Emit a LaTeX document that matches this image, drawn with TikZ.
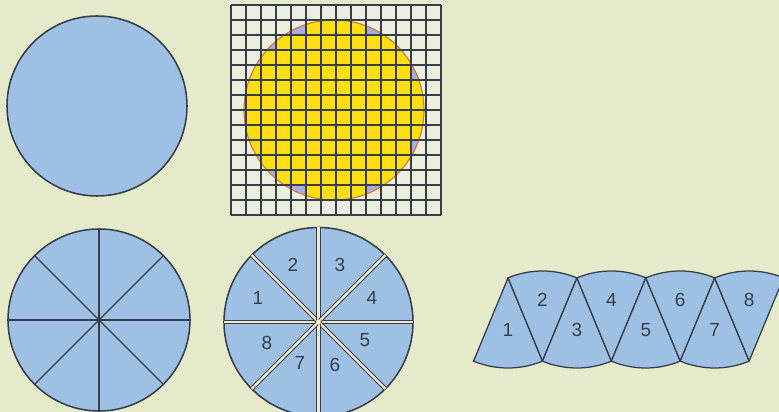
\documentclass[tikz,border=0pt]{standalone}
\usepackage{fontspec}
\setmainfont{Liberation Sans}
\usepackage{tikz}
\usetikzlibrary{positioning,calc}
\definecolor{PaperBg}{RGB}{228,234,202}
\definecolor{DiscBlue}{RGB}{157,192,228}
\definecolor{DiscLilac}{RGB}{168,172,226}
\definecolor{CellYellow}{RGB}{255,222,20}
\definecolor{RimOrange}{RGB}{214,120,40}
\definecolor{InkDark}{RGB}{55,62,72}
\definecolor{GapCream}{RGB}{240,236,205}
\definecolor{GridPale}{RGB}{236,238,224}
\begin{document}
\begin{tikzpicture}[x=0.025cm,y=-0.025cm,
    disc/.style={fill=DiscBlue,draw=InkDark,line width=1.1pt},
    cut/.style={draw=InkDark,line width=0.8pt},
    slit/.style={draw=InkDark,line width=0.75pt,double=GapCream,double distance=1.6pt},
    gridline/.style={draw=InkDark,line width=0.9pt},
    piece/.style={fill=DiscBlue,draw=InkDark,line width=0.9pt,line join=round},
    num/.style={font=\fontsize{13.5}{15}\selectfont,text=InkDark,inner sep=0pt}
  ]
  \useasboundingbox (0,0) rectangle (779,412);
  \clip (0,0) rectangle (779,412);
  \fill[PaperBg] (0,0) rectangle (779,412);

  % whole disc
  \coordinate (O1) at (97,106);
  \filldraw[disc] (O1) circle (90);

  % disc on squared paper
  \coordinate (O2) at (334,110);
  \fill[GridPale] (231,5) rectangle (441,215);
  \fill[DiscLilac] (O2) circle (90);
  \begin{scope}
    \clip (O2) circle (90);
    \foreach \c in {0,...,13}
      \foreach \r in {0,...,13}{
        \pgfmathsetmacro\dd{veclen(238.5+15*\c-334,12.5+15*\r-110)}
        \ifdim\dd pt<89.5pt \fill[CellYellow] (231+15*\c,5+15*\r) rectangle ++(15,15);\fi
      }
  \end{scope}
  \draw[RimOrange,line width=0.8pt] (O2) circle (90);
  \foreach \k in {0,...,14}{
    \draw[gridline] (231+15*\k,5) -- (231+15*\k,215);
    \draw[gridline] (231,5+15*\k) -- (441,5+15*\k);
  }

  % disc cut in eight
  \coordinate (O3) at (99,320);
  \filldraw[disc] (O3) circle (91);
  \foreach \a in {0,45,90,135}
    \draw[cut] (O3) ++(\a:91) -- ++(\a+180:182);

  % numbered pieces
  \coordinate (O4) at (318.5,322);
  \filldraw[disc] (O4) circle (94.5);
  \foreach \a in {0,45,90,135}
    \draw[slit] (O4) ++(\a:94.5) -- ++(\a+180:189);
  \filldraw[fill=GapCream!40!white,draw=RimOrange!70,line width=0.4pt] (O4) circle (2.5);
  \node[num] (m1) at (258,298) {1};
  \node[num] (m2) at (293,265) {2};
  \node[num] (m3) at (340,265) {3};
  \node[num] (m4) at (372,298) {4};
  \node[num] (m5) at (365,340) {5};
  \node[num] (m6) at (335,365) {6};
  \node[num] (m7) at (300,363) {7};
  \node[num] (m8) at (267,343) {8};

  % pieces laid in a row
  \foreach \i in {1,...,8}{
    \pgfmathsetmacro\xa{508+34.45*(\i-1)}
    \ifodd\i\relax
      \filldraw[piece] (\xa,278) -- ++(112.5:90)
        arc[start angle=112.5,end angle=67.5,radius=90] -- cycle;
      \node[num] (s\i) at (\xa,330) {\i};
    \else
      \filldraw[piece] (\xa,361) -- ++(247.5:90)
        arc[start angle=247.5,end angle=292.5,radius=90] -- cycle;
      \node[num] (s\i) at (\xa,300) {\i};
    \fi
  }
\end{tikzpicture}
\end{document}
